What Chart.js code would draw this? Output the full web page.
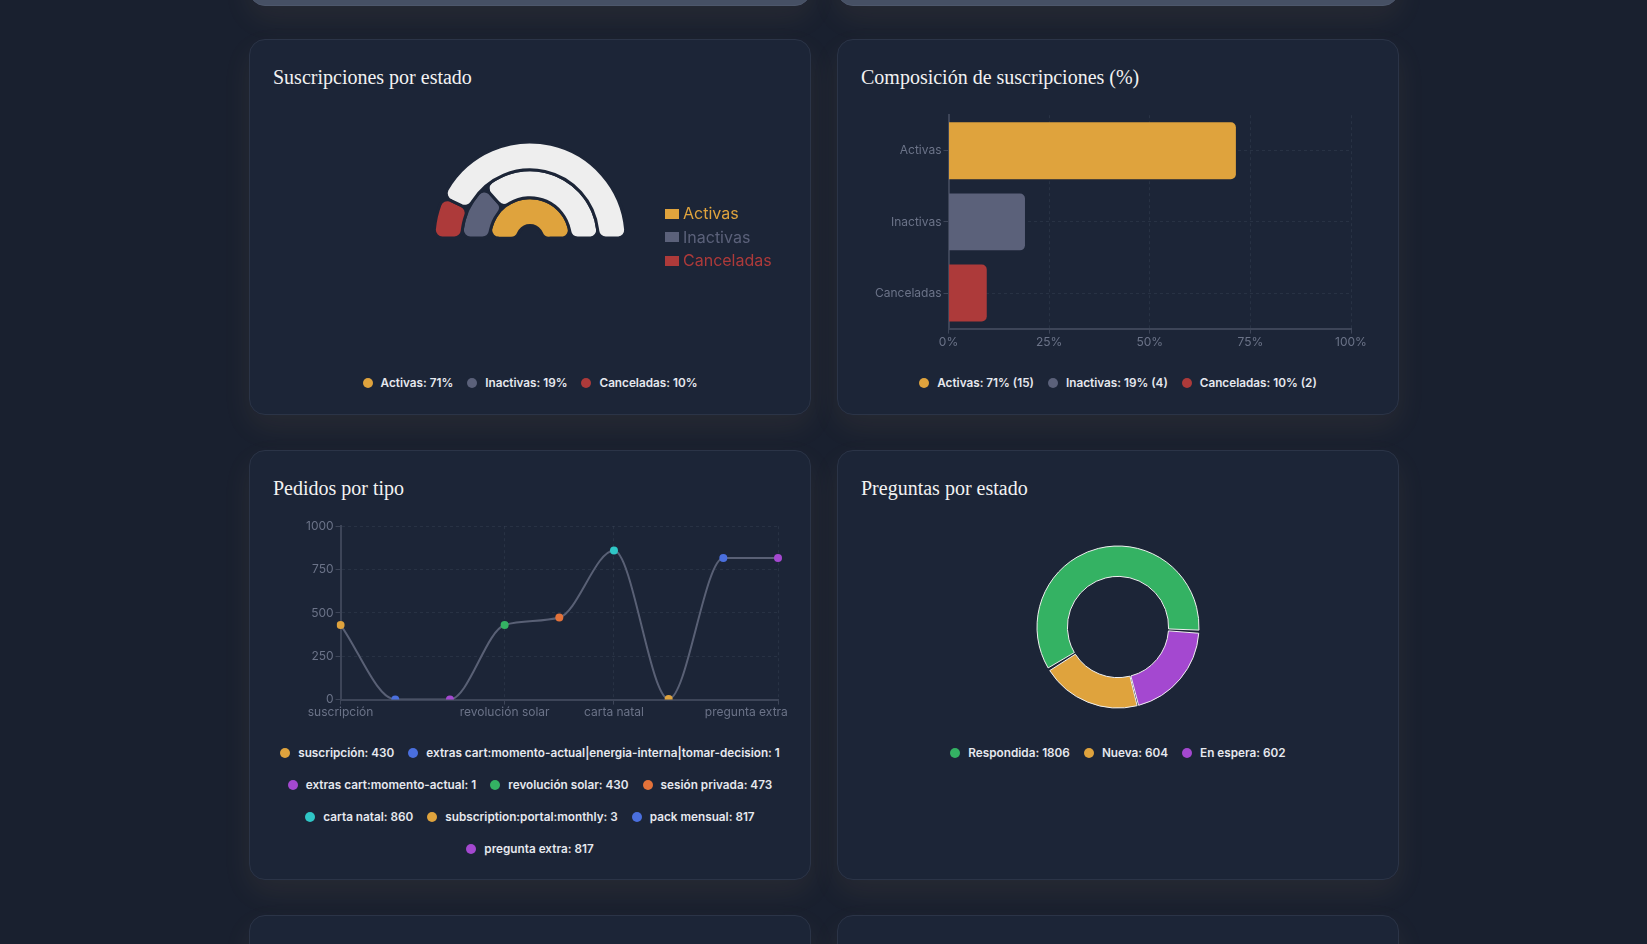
<!DOCTYPE html>
<html lang="es">
<head>
<meta charset="utf-8">
<title>Panel</title>
<script src="https://cdn.jsdelivr.net/npm/chart.js@4.4.1/dist/chart.umd.min.js"></script>
<style>
  html, body { margin: 0; padding: 0; }
  body {
    width: 1647px; height: 944px; overflow: hidden; position: relative;
    background: #19202f; font-family: Inter, "Noto Sans", sans-serif;
  }
  .card {
    position: absolute; box-sizing: border-box; width: 562px;
    background: #1c2537; border: 1px solid #2b3447; border-radius: 16px;
    box-shadow: 0 12px 30px rgba(235, 180, 120, 0.07);
  }
  .card.ghost { background: #465064; border-color: #4d576b; }
  .card h3 {
    position: absolute; left: 23px; top: 23px; margin: 0;
    font: 400 20px/28px "Liberation Serif", serif; color: #f2f2f2;
  }
  .chart-box { position: absolute; }
  .legend {
    position: absolute; left: 0; right: 0; padding: 0 8px;
    display: flex; flex-wrap: wrap; justify-content: center;
    column-gap: 14px; row-gap: 16px;
    font: 600 11.75px/16px Inter, sans-serif; color: #e6e8ee;
  }
  .legend .item { display: flex; align-items: center; white-space: nowrap; }
  .legend i { width: 10px; height: 10px; border-radius: 50%; margin-right: 8px; }
  .side-legend { position: absolute; font: 400 16px/23.5px Inter, sans-serif; }
  .side-legend div { display: flex; align-items: center; }
  .side-legend b { width: 14px; height: 10px; margin-right: 4px; }
</style>
</head>
<body>

<div class="card ghost" style="left:249px; top:-60px; height:66px;"></div>
<div class="card ghost" style="left:837px; top:-60px; height:66px;"></div>

<div class="card" style="left:249px; top:39px; height:376px;">
  <h3>Suscripciones por estado</h3>
  <div class="chart-box" style="left:23px; top:70px; width:514px; height:160px;"><canvas id="gauge"></canvas></div>
  <div class="side-legend" id="gauge-side" style="left:415px; top:162px;"></div>
  <div class="legend" id="gauge-legend" style="top:335px;"></div>
</div>

<div class="card" style="left:837px; top:39px; height:376px;">
  <h3>Composición de suscripciones (%)</h3>
  <div class="chart-box" style="left:23px; top:66px; width:514px; height:250px;"><canvas id="bars"></canvas></div>
  <div class="legend" id="bars-legend" style="top:335px;"></div>
</div>

<div class="card" style="left:249px; top:450px; height:430px;">
  <h3>Pedidos por tipo</h3>
  <div class="chart-box" style="left:23px; top:66px; width:514px; height:204px;"><canvas id="pedidos"></canvas></div>
  <div class="legend" id="pedidos-legend" style="top:294px;"></div>
</div>

<div class="card" style="left:837px; top:450px; height:430px;">
  <h3>Preguntas por estado</h3>
  <div class="chart-box" style="left:23px; top:66px; width:514px; height:220px;"><canvas id="preguntas"></canvas></div>
  <div class="legend" id="preguntas-legend" style="top:294px;"></div>
</div>

<div class="card" style="left:249px; top:915px; height:200px;"></div>
<div class="card" style="left:837px; top:915px; height:200px;"></div>

<script>
// suscripciones
const estados = ["Activas", "Inactivas", "Canceladas"];
const estadoCounts = [15, 4, 2];
const estadoPct = [71, 19, 10];
const estadoBarPct = [71.4, 19.0, 9.5];
const estadoColors = ["#dfa33d", "#5b617a", "#ad3a3a"];

// pedidos por tipo
const tipos = [
  "suscripción",
  "extras cart:momento-actual|energia-interna|tomar-decision",
  "extras cart:momento-actual",
  "revolución solar",
  "sesión privada",
  "carta natal",
  "subscription:portal:monthly",
  "pack mensual",
  "pregunta extra"
];
const pedidos = [430, 1, 1, 430, 473, 860, 3, 817, 817];
const yTicks = [0, 250, 500, 750, 1000];
const xLabelIdx = [0, 3, 5, 8]; // labels the axis keeps after skipping

// preguntas por estado
const preguntaEstados = ["Respondida", "Nueva", "En espera"];
const preguntaCounts = [1806, 604, 602];
const preguntaColors = ["#34b263", "#dfa33d", "#a448d0"];
const preguntaDrawOrder = [0, 2, 1];

const palette = ["#dfa33d", "#4a6fde", "#a448d0", "#34b263", "#e3723a", "#2fc6c6"];
const cardBg = "#1c2537";
const track = "#eeeeee";
const tickGray = "#6b7388";
const axisColor = "#3d4558";
const gridColor = "rgba(148,163,184,0.10)";

Chart.defaults.font.family = "Inter, sans-serif";
Chart.defaults.font.size = 12;
Chart.defaults.color = tickGray;
Chart.defaults.animation = false;
Chart.defaults.maintainAspectRatio = false;
Chart.defaults.plugins.legend.display = false;
Chart.defaults.plugins.tooltip.enabled = false;

const fillLegend = (id, items) => {
  document.getElementById(id).innerHTML = items
    .map(it => `<span class="item"><i style="background:${it.color}"></i>${it.text}</span>`)
    .join("");
};

// --- gauge: one ring per estado, outer ring first
const maxPct = Math.max(...estadoPct);
const ringOrder = [2, 1, 0];
new Chart(document.getElementById("gauge"), {
  type: "doughnut",
  data: {
    labels: ["valor", "resto"],
    datasets: ringOrder.map(i => ({
      label: estados[i],
      data: [estadoPct[i], maxPct - estadoPct[i]],
      backgroundColor: [estadoColors[i], track],
      borderColor: cardBg,
      borderWidth: 3,
      borderRadius: 8
    }))
  },
  options: {
    rotation: -90,
    circumference: 180,
    cutout: "13%",
    radius: 96
  }
});

document.getElementById("gauge-side").innerHTML = estados
  .map((e, i) => `<div style="color:${estadoColors[i]}"><b style="background:${estadoColors[i]}"></b>${e}</div>`)
  .join("");
fillLegend("gauge-legend", estados.map((e, i) => ({ color: estadoColors[i], text: `${e}: ${estadoPct[i]}%` })));

// --- composición horizontal
new Chart(document.getElementById("bars"), {
  type: "bar",
  data: {
    labels: estados,
    datasets: [{
      data: estadoBarPct,
      backgroundColor: estadoColors,
      borderRadius: 5,
      borderSkipped: "start",
      barPercentage: 1,
      categoryPercentage: 0.8
    }]
  },
  options: {
    indexAxis: "y",
    layout: { padding: { left: 12, right: 24, top: 8, bottom: 4 } },
    scales: {
      x: {
        min: 0, max: 100,
        ticks: { stepSize: 25, padding: 2, callback: v => v + "%" },
        grid: { color: gridColor, tickColor: axisColor, tickLength: 5, tickBorderDash: [] },
        border: { color: axisColor, width: 2, dash: [3, 3] }
      },
      y: {
        ticks: { padding: 2 },
        grid: { offset: false, color: gridColor, tickColor: axisColor, tickLength: 5, tickBorderDash: [] },
        border: { color: axisColor, width: 2, dash: [3, 3] }
      }
    }
  }
});
fillLegend("bars-legend", estados.map((e, i) => ({
  color: estadoColors[i], text: `${e}: ${estadoPct[i]}% (${estadoCounts[i]})`
})));

// --- pedidos por tipo
const pointColors = tipos.map((t, i) => palette[i % palette.length]);
const shownTick = c => xLabelIdx.includes(c.index);
const lastIdx = tipos.length - 1;
new Chart(document.getElementById("pedidos"), {
  type: "line",
  data: {
    labels: tipos,
    datasets: [{
      data: pedidos,
      borderColor: "#596075",
      borderWidth: 2,
      cubicInterpolationMode: "monotone",
      fill: false,
      pointRadius: 4,
      pointBorderWidth: 0,
      pointBackgroundColor: pointColors,
      pointBorderColor: pointColors
    }]
  },
  options: {
    layout: { padding: { left: 31, right: 0, top: 0, bottom: 0 } },
    scales: {
      x: {
        afterFit: s => { s.paddingRight = 9; },
        ticks: {
          autoSkip: false, maxRotation: 0, padding: 1,
          // last label is pushed left so it stays inside the card
          callback: (v, i) => !xLabelIdx.includes(i) ? "" : (i === lastIdx ? tipos[i] + "\u2003".repeat(5) + " " : tipos[i])
        },
        grid: {
          color: c => shownTick(c) ? gridColor : "transparent",
          tickColor: c => shownTick(c) ? axisColor : "transparent",
          tickLength: 5, tickBorderDash: []
        },
        border: { color: axisColor, width: 2, dash: [3, 3] }
      },
      y: {
        min: yTicks[0], max: yTicks[yTicks.length - 1],
        afterBuildTicks: axis => { axis.ticks = yTicks.map(v => ({ value: v })); },
        ticks: { padding: 2, callback: v => String(v) },
        grid: { color: gridColor, tickColor: axisColor, tickLength: 5, tickBorderDash: [] },
        border: { color: axisColor, width: 2, dash: [3, 3] }
      }
    }
  }
});
fillLegend("pedidos-legend", tipos.map((t, i) => ({ color: pointColors[i], text: `${t}: ${pedidos[i]}` })));

// --- preguntas por estado
new Chart(document.getElementById("preguntas"), {
  type: "doughnut",
  data: {
    labels: preguntaDrawOrder.map(i => preguntaEstados[i]),
    datasets: [{
      data: preguntaDrawOrder.map(i => preguntaCounts[i]),
      backgroundColor: preguntaDrawOrder.map(i => preguntaColors[i]),
      borderColor: "#f0f0f0",
      borderWidth: 1,
      spacing: 2
    }]
  },
  options: {
    rotation: -122,
    cutout: "62%",
    radius: 80
  }
});
fillLegend("preguntas-legend", preguntaEstados.map((e, i) => ({ color: preguntaColors[i], text: `${e}: ${preguntaCounts[i]}` })));
</script>
</body>
</html>
